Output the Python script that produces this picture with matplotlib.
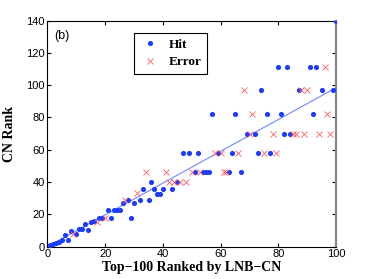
import numpy as np
import matplotlib
matplotlib.use("Agg")
import matplotlib.pyplot as plt

# rank by LNB-CN (x), rank by CN (y), and whether the pair is a hit
lnb_rank = list(range(1, 101))
cn_rank = [1, 1.5, 2.5, 3, 4, 7, 4, 9.5, 8, 8,
           11, 11, 14, 10, 15.5, 16, 15.5, 17.6, 17.6, 17.6,
           22.7, 18, 22.7, 22.7, 22.7, 27, 29, 29, 18, 27,
           33, 29, 36, 46, 29, 40, 36, 32.6, 32.6, 36,
           46, 40, 36, 40, 40, 40, 58, 40, 58, 46,
           46, 58, 46, 46, 46, 46, 82, 58, 58, 58,
           46, 46, 46, 58, 82, 58, 46, 97, 70, 70,
           82, 70, 58, 97, 58, 82, 58, 70, 58, 111,
           82, 70, 111, 70, 70, 70, 97, 97, 70, 97,
           111, 82, 111, 70, 97, 111, 82, 70, 97, 140]
is_hit = [1, 1, 1, 1, 1, 1, 1, 1, 0, 1,
          1, 1, 1, 1, 1, 1, 0, 1, 1, 0,
          1, 1, 1, 1, 1, 1, 0, 1, 1, 1,
          0, 1, 1, 0, 1, 1, 1, 1, 1, 1,
          0, 0, 1, 0, 1, 0, 1, 0, 1, 0,
          1, 1, 0, 1, 1, 1, 1, 0, 1, 0,
          0, 0, 1, 1, 1, 0, 1, 0, 1, 0,
          0, 1, 1, 1, 0, 1, 1, 0, 0, 1,
          1, 1, 1, 1, 0, 0, 1, 0, 0, 0,
          1, 1, 1, 0, 1, 0, 0, 0, 1, 1]

x = np.array(lnb_rank, dtype=float)
y = np.array(cn_rank, dtype=float)
hit = np.array(is_hit, dtype=bool)

fig = plt.figure(figsize=(3.71, 2.79), dpi=100)
ax = fig.add_axes([0.128, 0.116, 0.778, 0.81])

ax.plot(x[hit], y[hit], "o", color="#1a3cff", markersize=3.7,
        markeredgewidth=0, label="Hit", zorder=3)
ax.plot(x[~hit], y[~hit], "x", color="#ff5a5a", markersize=4.6,
        markeredgewidth=0.6, label="Error", zorder=3)

# least squares fit through the origin
slope = np.sum(x * y) / np.sum(x * x)
xf = np.array([0, 100])
ax.plot(xf, slope * xf, color="#6f86ff", linewidth=0.8, zorder=2)

ax.set_xlim(0, 100)
ax.set_ylim(0, 140)
ax.set_xticks(range(0, 101, 20))
ax.set_yticks(range(0, 141, 20))
ax.tick_params(direction="in", top=True, right=True, length=3,
               labelsize=8, pad=2)
for lab in ax.get_xticklabels() + ax.get_yticklabels():
    lab.set_family("Liberation Sans")
for s in ax.spines.values():
    s.set_linewidth(0.8)
ax.spines["right"].set_color("#888888")
ax.spines["right"].set_linewidth(1.6)

ax.set_xlabel("Top\u2212100 Ranked by LNB\u2212CN", family="Liberation Serif",
              fontweight="bold", fontsize=10, labelpad=1)
ax.set_ylabel("CN Rank", family="Liberation Serif", fontweight="bold",
              fontsize=10, labelpad=7)
ax.text(0.025, 0.93, "(b)", transform=ax.transAxes, family="Liberation Sans",
        fontsize=9, va="center")

leg = ax.legend(loc="upper left", bbox_to_anchor=(0.30, 0.944),
                borderaxespad=0, fancybox=False, edgecolor="black",
                framealpha=1, handlelength=1.6, handletextpad=0.6,
                borderpad=0.4, labelspacing=0.4,
                prop={"family": "Liberation Serif", "weight": "bold", "size": 9.5})
leg.get_frame().set_linewidth(0.8)

fig.savefig("out.png", dpi=100)
